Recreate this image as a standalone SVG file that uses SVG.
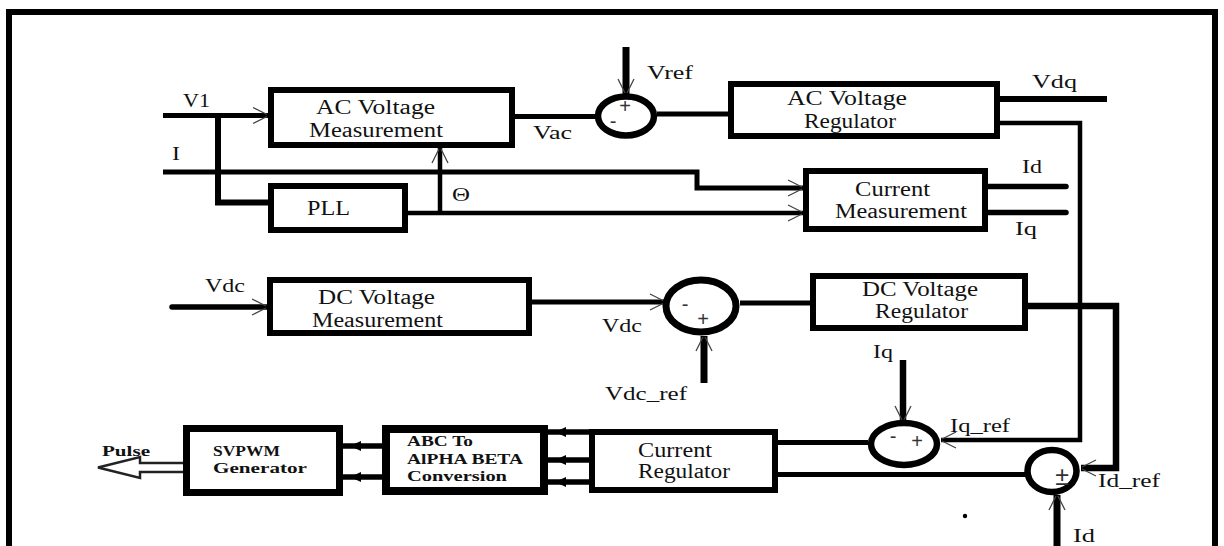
<svg xmlns="http://www.w3.org/2000/svg" width="1224" height="546" viewBox="0 0 1224 546">
<defs>
<style>
.box{fill:#fff;stroke:#000;stroke-width:6}
.sum{fill:#fff;stroke:#000;stroke-width:6.5}
.w{fill:none;stroke:#000;stroke-width:5}
.t{font-family:"Liberation Serif","Times New Roman",serif;font-size:20px;fill:#111}
.l{font-family:"Liberation Serif","Times New Roman",serif;font-size:19px;fill:#111}
.b{font-family:"Liberation Serif","Times New Roman",serif;font-size:14px;font-weight:bold;fill:#111}
.s{font-family:"Liberation Sans",Arial,sans-serif;font-size:20px;fill:#333;text-anchor:middle}
</style>
<marker id="oa" markerUnits="userSpaceOnUse" orient="auto" overflow="visible" markerWidth="1" markerHeight="1" refX="0" refY="0">
<path d="M-15,-8 L-1,-1 M-15,8 L-1,1" fill="none" stroke="#444" stroke-width="1.3"/>
</marker>
<marker id="dart" markerUnits="userSpaceOnUse" orient="auto" overflow="visible" markerWidth="1" markerHeight="1" refX="0" refY="0">
<path d="M-18,-5 L-7,0 L-18,5 z" fill="#000"/>
</marker>
</defs>
<rect width="1224" height="546" fill="#fff"/>
<path d="M9,546 V12 H1215 V546" fill="none" stroke="#000" stroke-width="6"/>

<g id="connectors">
<path class="w" d="M163,115.5 H268" marker-end="url(#oa)"/>
<path class="w" d="M218,115.5 V202.5 H269" style="stroke-width:6"/>
<path class="w" d="M163,172 H697 V188 H803" marker-end="url(#oa)"/>
<path class="w" d="M408,213 H803" marker-end="url(#oa)" style="stroke-width:4.5"/>
<path class="w" d="M440,213 V148" marker-end="url(#oa)" style="stroke-width:4.5"/>
<path class="w" d="M515,116.5 H598"/>
<path class="w" d="M626,47 V94" marker-end="url(#oa)" style="stroke-width:7"/>
<path class="w" d="M657,114 H729"/>
<path class="w" d="M1000,99 H1107" style="stroke-width:6"/>
<path class="w" d="M1000,123 H1080 V440 H941" marker-end="url(#oa)" style="stroke-width:4.5"/>
<path class="w" d="M988,186.5 H1066" style="stroke-linecap:round;stroke-width:5.5"/>
<path class="w" d="M988,212.5 H1066" style="stroke-linecap:round;stroke-width:5.5"/>
<path class="w" d="M172,307 H267" marker-end="url(#oa)" style="stroke-linecap:round;stroke-width:5.5"/>
<path class="w" d="M532,302 H665" marker-end="url(#oa)"/>
<path class="w" d="M704,383 V336" marker-end="url(#oa)" style="stroke-width:7"/>
<path class="w" d="M740,303 H811"/>
<path class="w" d="M1028,306 H1116 V468 H1081" marker-end="url(#oa)" style="stroke-width:6.5"/>
<path class="w" d="M903,360 V421" marker-end="url(#oa)" style="stroke-width:6.5"/>
<path class="w" d="M1057,546 V495" marker-end="url(#oa)" style="stroke-width:7"/>
<path class="w" d="M868,442.5 H778"/>
<path class="w" d="M1028,474.5 H778"/>
<path class="w" d="M589,432 H548" marker-end="url(#dart)" style="stroke-width:5.5"/>
<path class="w" d="M589,460 H548" marker-end="url(#dart)" style="stroke-width:5.5"/>
<path class="w" d="M589,482 H548" marker-end="url(#dart)" style="stroke-width:5.5"/>
<path class="w" d="M382,446 H343" marker-end="url(#dart)" style="stroke-width:5.5"/>
<path class="w" d="M382,477 H343" marker-end="url(#dart)" style="stroke-width:5.5"/>
<path d="M183,463 H140 V457 L98,467.5 L140,478 V472 H183" fill="#fff" stroke="#222" stroke-width="2.5" stroke-linejoin="miter"/>
</g>

<g id="ac-meas">
<rect class="box" x="271" y="90" width="241" height="55"/>
<text class="t" x="316" y="114" textLength="119" lengthAdjust="spacingAndGlyphs">AC Voltage</text>
<text class="t" x="309" y="137" textLength="134" lengthAdjust="spacingAndGlyphs">Measurement</text>
</g>
<g id="pll">
<rect class="box" x="271" y="186" width="134" height="44"/>
<text class="t" x="307" y="215" textLength="43" lengthAdjust="spacingAndGlyphs">PLL</text>
</g>
<g id="ac-reg">
<rect class="box" x="731" y="84" width="266" height="52"/>
<text class="t" x="787" y="105" textLength="120" lengthAdjust="spacingAndGlyphs">AC Voltage</text>
<text class="t" x="804" y="128" textLength="92" lengthAdjust="spacingAndGlyphs">Regulator</text>
</g>
<g id="cur-meas">
<rect class="box" x="806" y="171" width="179" height="58"/>
<text class="t" x="855" y="196" textLength="75" lengthAdjust="spacingAndGlyphs">Current</text>
<text class="t" x="835" y="218" textLength="132" lengthAdjust="spacingAndGlyphs">Measurement</text>
</g>
<g id="dc-meas">
<rect class="box" x="270" y="280" width="259" height="53"/>
<text class="t" x="318" y="304" textLength="117" lengthAdjust="spacingAndGlyphs">DC Voltage</text>
<text class="t" x="312" y="327" textLength="131" lengthAdjust="spacingAndGlyphs">Measurement</text>
</g>
<g id="dc-reg">
<rect class="box" x="813" y="276" width="212" height="52"/>
<text class="t" x="862" y="296" textLength="116" lengthAdjust="spacingAndGlyphs">DC Voltage</text>
<text class="t" x="875" y="318" textLength="93" lengthAdjust="spacingAndGlyphs">Regulator</text>
</g>
<g id="cur-reg">
<rect class="box" x="592" y="432" width="183" height="58"/>
<text class="t" x="638" y="457" textLength="74" lengthAdjust="spacingAndGlyphs">Current</text>
<text class="t" x="638" y="478" textLength="92" lengthAdjust="spacingAndGlyphs">Regulator</text>
</g>
<g id="abc">
<rect class="box" x="386" y="429" width="158" height="62" style="stroke-width:8"/>
<text class="b" x="407" y="446" textLength="66" lengthAdjust="spacingAndGlyphs">ABC To</text>
<text class="b" x="407" y="464" textLength="116" lengthAdjust="spacingAndGlyphs">AlPHA BETA</text>
<text class="b" x="407" y="481" textLength="100" lengthAdjust="spacingAndGlyphs">Conversion</text>
</g>
<g id="svpwm">
<rect class="box" x="186.5" y="428.5" width="153" height="64" style="stroke-width:7"/>
<text class="b" x="213" y="456" textLength="67" lengthAdjust="spacingAndGlyphs">SVPWM</text>
<text class="b" x="213" y="473" textLength="94" lengthAdjust="spacingAndGlyphs">Generator</text>
</g>

<g id="sum-vref">
<ellipse class="sum" cx="626" cy="116" rx="28" ry="19.5"/>
<text class="s" x="625" y="113">+</text>
<text class="s" x="613" y="128">-</text>
</g>
<g id="sum-vdc">
<ellipse class="sum" cx="701" cy="306" rx="35" ry="26" style="stroke-width:7"/>
<text class="s" x="685" y="311">-</text>
<text class="s" x="703" y="326">+</text>
</g>
<g id="sum-iq">
<ellipse class="sum" cx="904" cy="444" rx="33" ry="21"/>
<text class="s" x="893" y="443">-</text>
<text class="s" x="917" y="448">+</text>
</g>
<g id="sum-id">
<ellipse class="sum" cx="1052" cy="471" rx="24.5" ry="21"/>
<text class="s" x="1062" y="485" style="font-size:25px">±</text>
</g>

<g id="labels">
<text class="l" x="183" y="107" textLength="27" lengthAdjust="spacingAndGlyphs">V1</text>
<text class="l" x="172" y="160" textLength="8" lengthAdjust="spacingAndGlyphs">I</text>
<text class="l" x="533" y="139" textLength="39" lengthAdjust="spacingAndGlyphs">Vac</text>
<text class="l" x="647" y="79" textLength="46" lengthAdjust="spacingAndGlyphs">Vref</text>
<text class="l" x="452" y="201" textLength="18" lengthAdjust="spacingAndGlyphs">Θ</text>
<text class="l" x="1032" y="88" textLength="45" lengthAdjust="spacingAndGlyphs">Vdq</text>
<text class="l" x="1022" y="173" textLength="20" lengthAdjust="spacingAndGlyphs">Id</text>
<text class="l" x="1015" y="235" textLength="22" lengthAdjust="spacingAndGlyphs">Iq</text>
<text class="l" x="205" y="292" textLength="40" lengthAdjust="spacingAndGlyphs">Vdc</text>
<text class="l" x="602" y="332" textLength="40" lengthAdjust="spacingAndGlyphs">Vdc</text>
<text class="l" x="605" y="400" textLength="82" lengthAdjust="spacingAndGlyphs">Vdc_ref</text>
<text class="l" x="873" y="358" textLength="20" lengthAdjust="spacingAndGlyphs">Iq</text>
<text class="l" x="950" y="432" textLength="60" lengthAdjust="spacingAndGlyphs">Iq_ref</text>
<text class="l" x="1098" y="487" textLength="62" lengthAdjust="spacingAndGlyphs">Id_ref</text>
<text class="l" x="1073" y="542" textLength="22" lengthAdjust="spacingAndGlyphs">Id</text>
<text class="b" x="102" y="456" textLength="48" lengthAdjust="spacingAndGlyphs">Pulse</text>
<circle cx="965" cy="516" r="2.2" fill="#000"/>
</g>
</svg>
